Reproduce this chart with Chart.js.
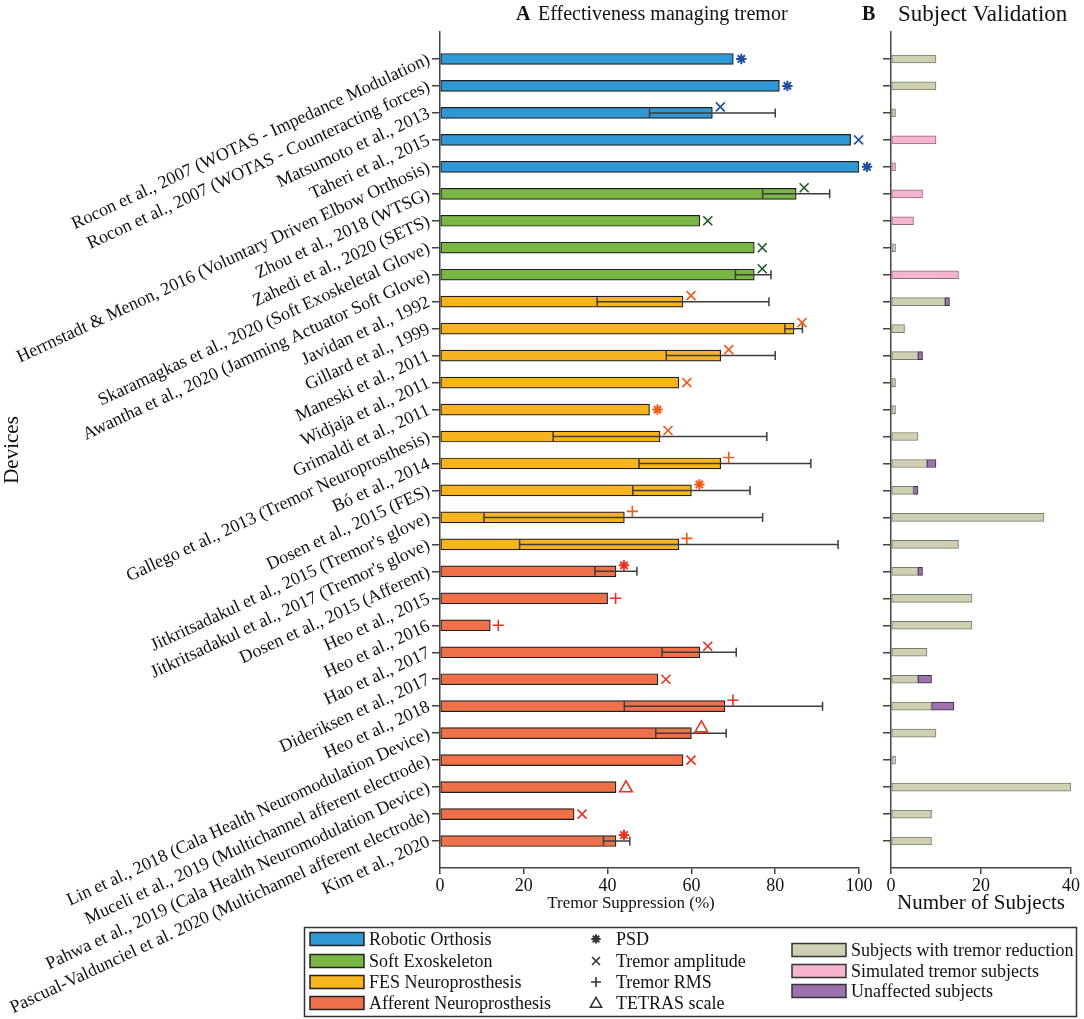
<!DOCTYPE html>
<html>
<head>
<meta charset="utf-8">
<script src="https://cdn.jsdelivr.net/npm/chart.js@4.4.0/dist/chart.umd.min.js"></script>
<style>
  body { margin: 0; background: #fff; }
  #wrap { position: relative; width: 1084px; height: 1019px; }
  #chart__A { position: absolute; left: 0; top: 0; }
  #chart__B { position: absolute; left: 850px; top: 0; }
</style>
</head>
<body>
<div id="wrap">
  <canvas id="chart__A" width="1084" height="1019" style="width:1084px;height:1019px"></canvas>
  <canvas id="chart__B" width="234" height="920" style="width:234px;height:920px"></canvas>
</div>
<script>
"use strict";

// ** Data

const devices = [
  "Rocon et al., 2007 (WOTAS - Impedance Modulation)",
  "Rocon et al., 2007 (WOTAS - Counteracting forces)",
  "Matsumoto et al., 2013",
  "Taheri et al., 2015",
  "Herrnstadt & Menon, 2016 (Voluntary Driven Elbow Orthosis)",
  "Zhou et al., 2018 (WTSG)",
  "Zahedi et al., 2020 (SETS)",
  "Skaramagkas et al., 2020 (Soft Exoskeletal Glove)",
  "Awantha et al., 2020 (Jamming Actuator Soft Glove)",
  "Javidan et al., 1992",
  "Gillard et al., 1999",
  "Maneski et al., 2011",
  "Widjaja et al., 2011",
  "Grimaldi et al., 2011",
  "Gallego et al., 2013 (Tremor Neuroprosthesis)",
  "Bó et al., 2014",
  "Dosen et al., 2015 (FES)",
  "Jitkritsadakul et al., 2015 (Tremor's glove)",
  "Jitkritsadakul et al., 2017 (Tremor's glove)",
  "Dosen et al., 2015 (Afferent)",
  "Heo et al., 2015",
  "Heo et al., 2016",
  "Hao et al., 2017",
  "Dideriksen et al., 2017",
  "Heo et al., 2018",
  "Lin et al., 2018 (Cala Health Neuromodulation Device)",
  "Muceli et al., 2019 (Multichannel afferent electrode)",
  "Pahwa et al., 2019 (Cala Health Neuromodulation Device)",
  "Pascual-Valdunciel et al. 2020 (Multichannel afferent electrode)",
  "Kim et al., 2020",
];

// 0 robotic orthosis, 1 soft exoskeleton, 2 FES, 3 afferent
const deviceType = [0, 0, 0, 0, 0, 1, 1, 1, 1, 2, 2, 2, 2, 2, 2, 2, 2, 2, 2, 3, 3, 3, 3, 3, 3, 3, 3, 3, 3, 3];
const typeNames = ["Robotic Orthosis", "Soft Exoskeleton", "FES Neuroprosthesis", "Afferent Neuroprosthesis"];

const suppression = [70, 81, 65, 98, 100, 85, 62, 75, 75, 58, 84.5, 67, 57, 50, 52.5, 67, 60, 44, 57, 42,
  40, 12, 62, 52, 68, 60, 58, 42, 32, 42];
const errLow = [null, null, 50, null, null, 77, null, null, 70.5, 37.5, 82.3, 54, null, null, 27, 47.5, 46, 10.5, 19, 37,
  null, null, 53, null, 44, 51.5, null, null, null, 39];
const errHigh = [null, null, 80, null, null, 93, null, null, 79, 78.5, 86.5, 80, null, null, 78, 88.5, 74, 77, 95, 47,
  null, null, 70.7, null, 91.3, 68.3, null, null, null, 45.3];
const measure = ["psd", "psd", "amp", "amp", "psd", "amp", "amp", "amp", "amp", "amp", "amp", "amp", "amp", "psd", "amp",
  "rms", "psd", "rms", "rms", "psd", "rms", "rms", "amp", "amp", "rms", "tetras", "amp", "tetras", "amp", "psd"];
const measureNames = { psd: "PSD", amp: "Tremor amplitude", rms: "Tremor RMS", tetras: "TETRAS scale" };

const withReduction = [10, 10, 1, null, null, null, null, 1, null, 12, 3, 6, 1, 1, 6, 8, 5, 34, 15, 6,
  18, 18, 8, 6, 9, 10, 1, 40, 9, 9];
const simulated = [null, null, null, 10, 1, 7, 5, null, 15, null, null, null, null, null, null, null, null, null, null, null,
  null, null, null, null, null, null, null, null, null, null];
const unaffected = [null, null, null, null, null, null, null, null, null, 1, null, 1, null, null, null, 2, 1, null, null, 1,
  null, null, null, 3, 5, null, null, null, null, null];
const subjectNames = ["Subjects with tremor reduction", "Simulated tremor subjects", "Unaffected subjects"];

const suppressionTicks = [0, 20, 40, 60, 80, 100];
const subjectTicks = [0, 20, 40];

// ** Styles

const SERIF = "'Liberation Serif', 'DejaVu Serif', serif";
const INK = "#111";
const AXIS = "#444";
const typeColors = ["#3098d5", "#79b744", "#f8b41e", "#ee7149"];
const markerColors = ["#1f4f9e", "#1d5a1d", "#ef5a17", "#e5331f"];
const subjectColors = ["#cfcfb1", "#f6b4d0", "#9d71ae"];
const subjectBorders = ["#7a7a6c", "#8c6c7c", "#3b2a44"];

// one blank slot above and below the devices so the axis runs a full row past them
const rowLabels = ["", ...devices, ""];
const pad = (arr) => [null, ...arr, null];
const lastRow = rowLabels.length - 1;
const hideEndTicks = (c) => (c.index === 0 || c.index === lastRow ? "rgba(0,0,0,0)" : AXIS);

// ** Functions

function drawMarker(ctx, kind, x, y, color, r) {
  ctx.save();
  ctx.strokeStyle = color;
  ctx.lineWidth = 1.6;
  ctx.beginPath();
  if (kind === "amp") {
    ctx.moveTo(x - r, y - r); ctx.lineTo(x + r, y + r);
    ctx.moveTo(x + r, y - r); ctx.lineTo(x - r, y + r);
  } else if (kind === "rms") {
    const k = r * 1.25;
    ctx.moveTo(x - k, y); ctx.lineTo(x + k, y);
    ctx.moveTo(x, y - k); ctx.lineTo(x, y + k);
  } else if (kind === "psd") {
    ctx.lineWidth = 2;
    const k = r * 1.15;
    for (let a = 0; a < 4; a++) {
      const ang = (a * Math.PI) / 4;
      ctx.moveTo(x - k * Math.cos(ang), y - k * Math.sin(ang));
      ctx.lineTo(x + k * Math.cos(ang), y + k * Math.sin(ang));
    }
  } else if (kind === "tetras") {
    const k = r * 1.4;
    ctx.moveTo(x, y - k);
    ctx.lineTo(x + k, y + k * 0.75);
    ctx.lineTo(x - k, y + k * 0.75);
    ctx.closePath();
  }
  ctx.stroke();
  ctx.restore();
}

function swatch(ctx, x, y, fill, stroke) {
  ctx.fillStyle = fill;
  ctx.fillRect(x, y - 6.5, 54, 13);
  ctx.strokeStyle = stroke;
  ctx.lineWidth = 1.5;
  ctx.strokeRect(x, y - 6.5, 54, 13);
}

// panel letter + heading, and an x caption that is not centred on the axis
const panelHeading = {
  id: "panelHeading",
  afterDraw(chart, args, opts) {
    const { ctx } = chart;
    ctx.save();
    ctx.fillStyle = INK;
    ctx.textBaseline = "middle";
    ctx.font = `bold 20px ${SERIF}`;
    ctx.fillText(opts.letter, opts.x, 15);
    ctx.font = `${opts.size}px ${SERIF}`;
    ctx.fillText(opts.text, opts.x + opts.gap, 15);
    if (opts.caption) {
      ctx.font = `17px ${SERIF}`;
      ctx.textAlign = "center";
      ctx.fillText(opts.caption, opts.captionX, chart.chartArea.bottom + 36);
    }
    ctx.restore();
  },
};

const whiskers = {
  id: "whiskers",
  afterDatasetsDraw(chart) {
    const { ctx, scales: { x, y } } = chart;
    ctx.save();
    devices.forEach((name, i) => {
      const yc = y.getPixelForValue(i + 1);
      const hasErr = errLow[i] !== null;
      if (hasErr) {
        const x0 = x.getPixelForValue(errLow[i]);
        const x1 = x.getPixelForValue(errHigh[i]);
        ctx.strokeStyle = "#3c3c3c";
        ctx.lineWidth = 1.5;
        ctx.beginPath();
        ctx.moveTo(x0, yc); ctx.lineTo(x1, yc);
        ctx.moveTo(x0, yc - 4.5); ctx.lineTo(x0, yc + 4.5);
        ctx.moveTo(x1, yc - 4.5); ctx.lineTo(x1, yc + 4.5);
        ctx.stroke();
      }
      const kind = measure[i];
      const mx = x.getPixelForValue(suppression[i]) + (kind === "tetras" ? 10 : 8);
      const my = hasErr ? yc - 6 : yc;
      drawMarker(ctx, kind, mx, my, markerColors[deviceType[i]], 4.5);
    });
    ctx.restore();
  },
};

const boxLegend = {
  id: "boxLegend",
  afterDraw(chart) {
    const { ctx } = chart;
    ctx.save();
    ctx.strokeStyle = "#333";
    ctx.lineWidth = 1.5;
    ctx.strokeRect(304.5, 927.5, 772, 89);
    ctx.font = `18px ${SERIF}`;
    ctx.textBaseline = "middle";
    const rows = [939, 961, 982, 1003];
    typeNames.forEach((name, i) => {
      swatch(ctx, 310, rows[i], typeColors[i], "#222");
      ctx.fillStyle = INK;
      ctx.fillText(name, 369, rows[i] + 1);
    });
    Object.keys(measureNames).forEach((kind, i) => {
      drawMarker(ctx, kind, 596, rows[i], "#333", 4);
      ctx.fillStyle = INK;
      ctx.fillText(measureNames[kind], 616, rows[i] + 1);
    });
    const rows3 = [950, 971, 991];
    subjectNames.forEach((name, i) => {
      swatch(ctx, 792, rows3[i], subjectColors[i], "#333");
      ctx.fillStyle = INK;
      ctx.fillText(name, 851, rows3[i] + 1);
    });
    ctx.restore();
  },
};

function axisTitle(text) {
  return { display: !!text, text, color: INK, font: { family: SERIF, size: 21 }, padding: { top: 0, bottom: 4 } };
}

function valueAxis(max, ticks, title) {
  return {
    min: 0,
    max,
    afterBuildTicks: (scale) => { scale.ticks = ticks.map((v) => ({ value: v })); },
    ticks: { color: INK, font: { family: SERIF, size: 18 }, padding: 1, maxRotation: 0 },
    grid: { drawOnChartArea: false, tickLength: 6, color: AXIS, lineWidth: 1.5 },
    border: { color: AXIS, width: 1.5 },
    title: axisTitle(title),
    afterFit: (scale) => { scale.height = 52; },
  };
}

// ** Chart A : effectiveness managing tremor

const chartA = new Chart(document.getElementById("chart__A"), {
  type: "bar",
  data: {
    labels: rowLabels,
    datasets: [
      {
        label: "Tremor Suppression (%)",
        data: pad(suppression),
        backgroundColor: pad(deviceType.map((t) => typeColors[t])),
        borderColor: "#1e1e1e",
        borderWidth: 1.2,
        borderSkipped: false,
        barThickness: 11,
      },
    ],
  },
  options: {
    indexAxis: "y",
    responsive: false,
    animation: false,
    layout: { padding: { top: 32, right: 225, bottom: 99, left: 0 } },
    plugins: {
      legend: { display: false },
      tooltip: { enabled: false },
      panelHeading: {
        letter: "A", text: "Effectiveness managing tremor", x: 516, gap: 22, size: 20,
        caption: "Tremor Suppression (%)", captionX: 631,
      },
    },
    scales: {
      x: valueAxis(100, suppressionTicks, ""),
      y: {
        type: "category",
        offset: false,
        grid: { offset: false, drawOnChartArea: false, tickLength: 8, lineWidth: 1.5, tickColor: hideEndTicks },
        border: { color: AXIS, width: 1.5 },
        ticks: {
          autoSkip: false,
          minRotation: 25,
          maxRotation: 25,
          padding: 3,
          color: INK,
          font: { family: SERIF, size: 18 },
        },
        title: axisTitle("Devices"),
        afterFit: (scale) => { scale.width = 440; },
      },
    },
  },
  plugins: [whiskers, panelHeading, boxLegend],
});

// ** Chart B : subject validation

const chartB = new Chart(document.getElementById("chart__B"), {
  type: "bar",
  data: {
    labels: rowLabels,
    datasets: [withReduction, simulated, unaffected].map((values, i) => ({
      label: subjectNames[i],
      data: pad(values),
      backgroundColor: subjectColors[i],
      borderColor: subjectBorders[i],
      borderWidth: 1,
      borderSkipped: false,
      barThickness: 8,
    })),
  },
  options: {
    indexAxis: "y",
    responsive: false,
    animation: false,
    layout: { padding: { top: 32, right: 13, bottom: 0, left: 0 } },
    plugins: {
      legend: { display: false },
      tooltip: { enabled: false },
      panelHeading: { letter: "B", text: "Subject Validation", x: 12, gap: 36, size: 23 },
    },
    scales: {
      x: { ...valueAxis(40, subjectTicks, "Number of Subjects"), stacked: true },
      y: {
        type: "category",
        stacked: true,
        offset: false,
        grid: { offset: false, drawOnChartArea: false, tickLength: 8, lineWidth: 1.5, tickColor: hideEndTicks },
        border: { color: AXIS, width: 1.5 },
        ticks: { display: false },
        afterFit: (scale) => { scale.width = 41; },
      },
    },
  },
  plugins: [panelHeading],
});
</script>
</body>
</html>
